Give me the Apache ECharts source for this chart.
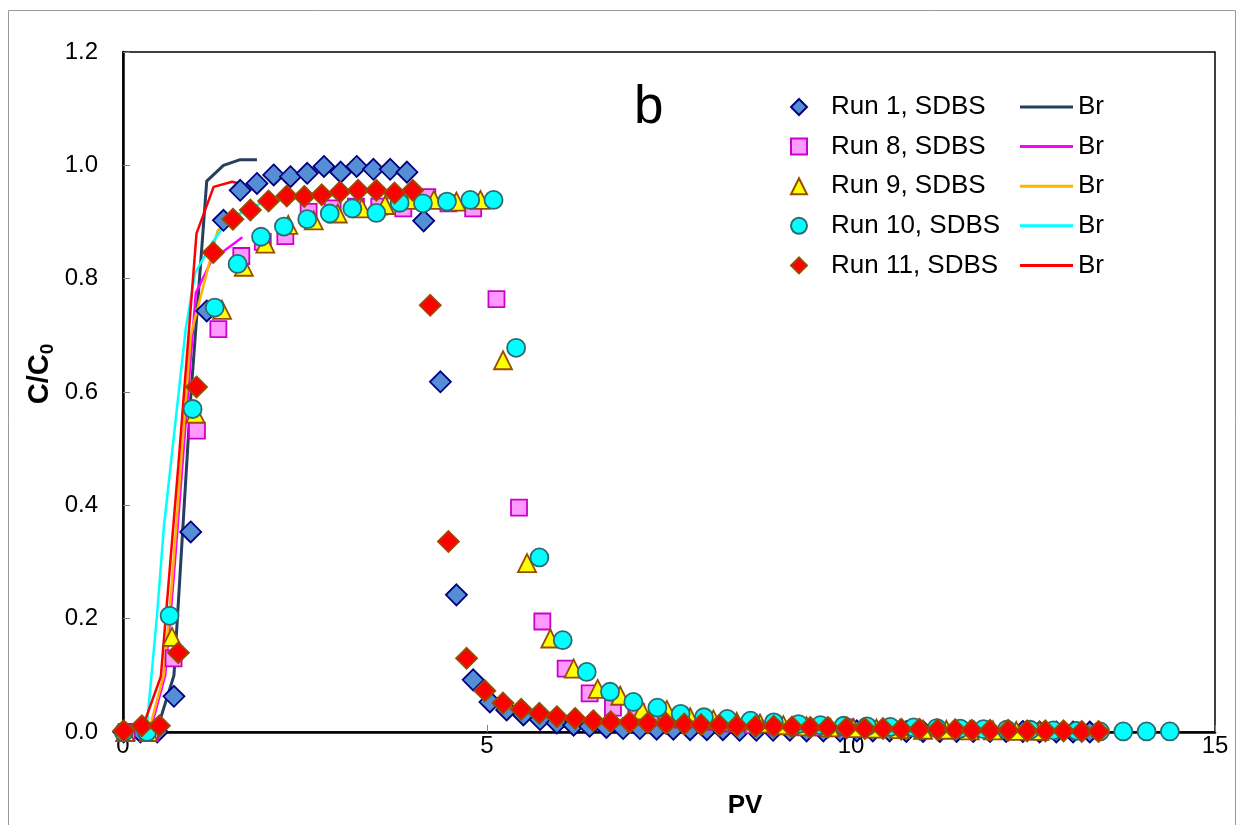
<!DOCTYPE html>
<html>
<head>
<meta charset="utf-8">
<script src="https://cdn.jsdelivr.net/npm/echarts@6/dist/echarts.min.js"></script>
<style>html,body{margin:0;padding:0;background:#fff;}#c{width:1244px;height:825px;}</style>
</head>
<body>
<div id="c"></div>
<script>
// ---- data ----
const xTicks = [0, 5, 10, 15];
const yTicks = [0, 0.2, 0.4, 0.6, 0.8, 1.0, 1.2];

const run1X = [0.01,0.24,0.47,0.70,0.93,1.15,1.38,1.61,1.84,2.07,2.30,2.53,2.76,2.99,3.21,3.44,3.67,3.90,4.13,4.36,4.58,4.81,5.04,5.27,5.50,5.73,5.96,6.19,6.41,6.64,6.87,7.10,7.33,7.56,7.79,8.02,8.24,8.47,8.70,8.93,9.16,9.39,9.62,9.85,10.08,10.30,10.53,10.76,10.99,11.22,11.45,11.68,11.91,12.13,12.36,12.59,12.82,13.05,13.28];
const run1Y = [0,0,0,0.063,0.353,0.743,0.903,0.956,0.968,0.983,0.980,0.986,0.998,0.988,0.998,0.993,0.993,0.988,0.902,0.618,0.242,0.092,0.053,0.039,0.030,0.022,0.016,0.012,0.010,0.008,0.006,0.006,0.005,0.005,0.004,0.004,0.004,0.003,0.003,0.003,0.003,0.002,0.002,0.002,0.002,0.002,0.002,0.001,0.001,0.001,0.001,0.001,0.001,0.001,0.001,0,0,0,0];

const run8X = [0.05,0.37,0.695,1.016,1.31,1.625,1.92,2.23,2.55,2.88,3.20,3.52,3.85,4.18,4.47,4.81,5.13,5.44,5.76,6.08,6.41,6.73,7.05,7.37,7.69,8.01,8.33,8.65,8.97,9.29,9.61,9.93];
const run8Y = [0,0,0.130,0.532,0.711,0.840,0.865,0.875,0.918,0.924,0.927,0.927,0.924,0.944,0.933,0.924,0.764,0.396,0.195,0.112,0.068,0.043,0.035,0.028,0.022,0.018,0.015,0.012,0.010,0.009,0.008,0.008];

const run9X = [0.03,0.35,0.673,0.993,1.36,1.66,1.955,2.27,2.62,2.95,3.28,3.60,3.94,4.27,4.58,4.91,5.22,5.55,5.87,6.19,6.52,6.83,7.13,7.47,7.79,8.11,8.43,8.75,9.07,9.39,9.71,10.03,10.35,10.67,10.99,11.31,11.63,11.95,12.27,12.59];
const run9Y = [0,0,0.168,0.562,0.745,0.821,0.862,0.895,0.903,0.915,0.924,0.930,0.939,0.939,0.936,0.939,0.656,0.298,0.165,0.112,0.076,0.064,0.038,0.039,0.026,0.022,0.018,0.015,0.012,0.010,0.008,0.007,0.006,0.005,0.004,0.004,0.003,0.003,0.002,0.002];

const run10X = [0.01,0.33,0.64,0.956,1.26,1.574,1.896,2.21,2.53,2.84,3.15,3.48,3.80,4.12,4.45,4.77,5.09,5.40,5.72,6.04,6.37,6.69,7.01,7.34,7.66,7.98,8.30,8.62,8.94,9.28,9.58,9.90,10.22,10.54,10.86,11.18,11.50,11.82,12.14,12.46,12.78,13.10,13.42,13.74,14.06,14.38];
const run10Y = [0,0,0.205,0.570,0.749,0.826,0.874,0.892,0.905,0.915,0.924,0.916,0.934,0.933,0.936,0.939,0.939,0.678,0.308,0.162,0.106,0.071,0.053,0.043,0.032,0.026,0.023,0.020,0.017,0.014,0.012,0.011,0.010,0.009,0.008,0.007,0.006,0.005,0.004,0.004,0.003,0.002,0.001,0.001,0.001,0.001];

const run11X = [0.01,0.26,0.50,0.76,1.01,1.24,1.51,1.75,2.00,2.25,2.49,2.73,2.98,3.23,3.48,3.73,3.98,4.22,4.47,4.72,4.97,5.22,5.47,5.72,5.96,6.21,6.46,6.70,6.96,7.21,7.46,7.71,7.94,8.19,8.43,8.69,8.94,9.19,9.44,9.68,9.94,10.19,10.44,10.69,10.94,11.19,11.43,11.66,11.91,12.16,12.42,12.67,12.92,13.17,13.40];
const run11Y = [0.002,0.011,0.011,0.140,0.609,0.846,0.905,0.921,0.937,0.946,0.945,0.948,0.953,0.956,0.956,0.951,0.956,0.753,0.336,0.130,0.073,0.051,0.040,0.033,0.027,0.024,0.020,0.018,0.017,0.016,0.015,0.014,0.013,0.012,0.011,0.010,0.010,0.009,0.008,0.008,0.007,0.006,0.006,0.005,0.005,0.004,0.004,0.003,0.003,0.003,0.002,0.002,0.002,0.001,0.001];

// Br tracer curves
const br1X = [0,0.24,0.47,0.70,0.93,1.15,1.38,1.61,1.84];
const br1Y = [0,0,0.005,0.10,0.59,0.972,1.0,1.01,1.01];
const br8X = [0.05,0.37,0.58,0.695,1.0,1.22,1.64];
const br8Y = [0,0,0.10,0.27,0.775,0.833,0.873];
const br9X = [0.03,0.35,0.56,0.67,0.80,0.93,1.13,1.30,1.66];
const br9Y = [0,0,0.10,0.26,0.48,0.70,0.80,0.885,0.92];
const br10X = [0.01,0.32,0.47,0.56,0.86,0.99,1.22,1.38,1.635,1.89];
const br10Y = [0,0,0.21,0.36,0.71,0.81,0.862,0.892,0.918,0.933];
const br11X = [0.01,0.26,0.52,0.76,1.01,1.245,1.50,1.68];
const br11Y = [0,0.005,0.098,0.47,0.88,0.962,0.971,0.965];

const runNames = ['Run 1, SDBS','Run 8, SDBS','Run 9, SDBS','Run 10, SDBS','Run 11, SDBS'];
const brNames = ['Br1','Br8','Br9','Br10','Br11'];

// ---- build ----
const zip = (xs, ys) => xs.map((x, i) => [x, ys[i]]);
const FONT = 'Liberation Sans, Arial, sans-serif';

function lineSeries(name, xs, ys, color, w) {
  return { name, type: 'line', data: zip(xs, ys), symbol: 'none', showSymbol: false, smooth: false, z: 2,
    lineStyle: { color, width: w }, itemStyle: { color }, clip: false, animation: false };
}
function scatterSeries(name, xs, ys, symbol, size, fill, border, z) {
  return { name, type: 'scatter', data: zip(xs, ys), symbol, symbolSize: size, z, clip: false,
    itemStyle: { color: fill, borderColor: border, borderWidth: 1.8, opacity: 1 }, animation: false };
}

const series = [
  lineSeries(brNames[0], br1X, br1Y, '#243F60', 3),
  lineSeries(brNames[1], br8X, br8Y, '#FF00FF', 2.5),
  lineSeries(brNames[2], br9X, br9Y, '#FFB400', 2.5),
  lineSeries(brNames[3], br10X, br10Y, '#00FFFF', 2.5),
  lineSeries(brNames[4], br11X, br11Y, '#FF0000', 2.5),
  scatterSeries(runNames[0], run1X, run1Y, 'diamond', 21, '#558ED5', '#000080', 3),
  scatterSeries(runNames[1], run8X, run8Y, 'rect', 16, '#FF99FF', '#CC00CC', 4),
  scatterSeries(runNames[2], run9X, run9Y, 'triangle', 18, '#FFFF00', '#994C00', 5),
  scatterSeries(runNames[3], run10X, run10Y, 'circle', 18, '#00FFFF', '#2F6A6E', 6),
  scatterSeries(runNames[4], run11X, run11Y, 'diamond', 21, '#FF0000', '#994C00', 7)
];

const chart = echarts.init(document.getElementById('c'), null, { renderer: 'canvas' });
chart.setOption({
  backgroundColor: '#fff',
  animation: false,
  textStyle: { fontFamily: FONT },
  grid: { left: 123, right: 29, top: 52, bottom: 93, show: true, borderColor: '#000', borderWidth: 1.5, backgroundColor: 'transparent' },
  xAxis: {
    type: 'value', min: xTicks[0], max: xTicks[xTicks.length - 1], interval: 5,
    axisLine: { onZero: false, lineStyle: { color: '#000', width: 2.5 } },
    axisTick: { inside: true, length: 7, lineStyle: { color: '#808080', width: 1 } },
    axisLabel: { color: '#000', fontSize: 24, fontFamily: FONT, margin: 2 },
    splitLine: { show: false }
  },
  yAxis: {
    type: 'value', min: yTicks[0], max: yTicks[yTicks.length - 1], interval: 0.2,
    axisLine: { onZero: false, lineStyle: { color: '#000', width: 2.5 } },
    axisTick: { inside: true, length: 7, lineStyle: { color: '#808080', width: 1 } },
    axisLabel: { color: '#000', fontSize: 24, fontFamily: FONT, margin: 25, formatter: v => v.toFixed(1) },
    splitLine: { show: false }
  },
  legend: [
    {
      data: runNames, orient: 'vertical', left: 785, top: 89,
      itemWidth: 16, itemHeight: 16, itemGap: 13.6,
      textStyle: { fontSize: 26, fontFamily: FONT, color: '#000', lineHeight: 26, padding: [0, 0, 0, 19] },
      selectedMode: false
    },
    {
      data: brNames.map(n => ({ name: n, icon: 'rect' })), orient: 'vertical', left: 1015, top: 89,
      itemWidth: 53, itemHeight: 3, itemGap: 13.6,
      formatter: () => 'Br',
      textStyle: { fontSize: 26, fontFamily: FONT, color: '#000', lineHeight: 26 },
      selectedMode: false
    }
  ],
  graphic: [
    { type: 'rect', silent: true, z: -10, shape: { x: 8.5, y: 10.5, width: 1227, height: 830 },
      style: { fill: null, stroke: '#9a9a9a', lineWidth: 1 } },
    { type: 'text', left: 634, top: 82, style: { text: 'b', fontSize: 53, fontFamily: FONT, fill: '#000' } },
    { type: 'text', x: 745, y: 806, style: { text: 'PV', fontSize: 26, fontWeight: 'bold', fontFamily: FONT, fill: '#000', align: 'center', verticalAlign: 'middle' } },
    { type: 'text', x: 40, y: 374, rotation: Math.PI / 2,
      style: { text: 'C/C{sub|0}', fontSize: 29, fontWeight: 'bold', fontFamily: FONT, fill: '#000', align: 'center', verticalAlign: 'middle',
        rich: { sub: { fontSize: 19, fontWeight: 'bold', fontFamily: FONT, fill: '#000', verticalAlign: 'bottom', padding: [15, 0, 0, 0] } } } }
  ],
  series
});
</script>
</body>
</html>
